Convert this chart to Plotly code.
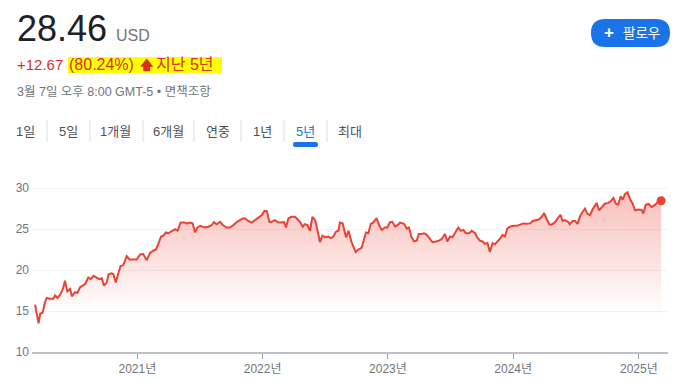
import plotly.graph_objects as go

# ---------------- data ----------------
dates = [
    "2020-03-09", "2020-03-19", "2020-03-24", "2020-03-31", "2020-04-07", "2020-04-12",
    "2020-04-22", "2020-05-01", "2020-05-06", "2020-05-13", "2020-05-21", "2020-05-29",
    "2020-06-04", "2020-06-11", "2020-06-19", "2020-06-24", "2020-07-03", "2020-07-10",
    "2020-07-18", "2020-08-02", "2020-08-11", "2020-08-18", "2020-08-26", "2020-09-05",
    "2020-09-12", "2020-09-19", "2020-09-26", "2020-10-04", "2020-10-09", "2020-10-18",
    "2020-10-23", "2020-10-30", "2020-11-07", "2020-11-13", "2020-11-21", "2020-12-01",
    "2020-12-09", "2020-12-20", "2020-12-30", "2021-01-09", "2021-01-18", "2021-01-28",
    "2021-02-07", "2021-02-17", "2021-02-24", "2021-03-03", "2021-03-11", "2021-03-18",
    "2021-03-25", "2021-04-01", "2021-04-11", "2021-04-21", "2021-04-28", "2021-05-07",
    "2021-05-18", "2021-05-25", "2021-06-03", "2021-06-11", "2021-06-18", "2021-06-25",
    "2021-07-03", "2021-07-12", "2021-07-17", "2021-07-27", "2021-08-06", "2021-08-12",
    "2021-08-20", "2021-08-30", "2021-09-07", "2021-09-18", "2021-09-28", "2021-10-08",
    "2021-10-17", "2021-10-27", "2021-11-04", "2021-11-11", "2021-11-20", "2021-11-30",
    "2021-12-10", "2021-12-19", "2021-12-29", "2022-01-06", "2022-01-13", "2022-01-21",
    "2022-01-27", "2022-02-06", "2022-02-14", "2022-02-25", "2022-03-05", "2022-03-10",
    "2022-03-17", "2022-03-25", "2022-04-05", "2022-04-13", "2022-04-20", "2022-04-28",
    "2022-05-04", "2022-05-11", "2022-05-19", "2022-05-26", "2022-06-03", "2022-06-09",
    "2022-06-17", "2022-06-24", "2022-07-02", "2022-07-11", "2022-07-19", "2022-07-26",
    "2022-08-03", "2022-08-10", "2022-08-14", "2022-08-22", "2022-09-01", "2022-09-08",
    "2022-09-17", "2022-09-29", "2022-10-07", "2022-10-16", "2022-10-23", "2022-10-29",
    "2022-11-05", "2022-11-12", "2022-11-19", "2022-11-29", "2022-12-07", "2022-12-14",
    "2022-12-23", "2022-12-30", "2023-01-07", "2023-01-14", "2023-01-22", "2023-01-31",
    "2023-02-05", "2023-02-17", "2023-02-25", "2023-03-03", "2023-03-11", "2023-03-18",
    "2023-03-26", "2023-04-01", "2023-04-09", "2023-04-16", "2023-04-24", "2023-05-04",
    "2023-05-11", "2023-05-21", "2023-05-30", "2023-06-07", "2023-06-16", "2023-06-23",
    "2023-07-01", "2023-07-08", "2023-07-15", "2023-07-25", "2023-08-01", "2023-08-09",
    "2023-08-16", "2023-08-26", "2023-09-02", "2023-09-12", "2023-09-18", "2023-09-26",
    "2023-10-04", "2023-10-11", "2023-10-18", "2023-10-25", "2023-11-02", "2023-11-09",
    "2023-11-16", "2023-11-23", "2023-12-01", "2023-12-08", "2023-12-15", "2023-12-23",
    "2024-01-01", "2024-01-11", "2024-01-21", "2024-01-30", "2024-02-09", "2024-02-19",
    "2024-02-27", "2024-03-09", "2024-03-17", "2024-03-24", "2024-03-31", "2024-04-07",
    "2024-04-15", "2024-04-22", "2024-05-02", "2024-05-11", "2024-05-18", "2024-05-24",
    "2024-05-31", "2024-06-10", "2024-06-14", "2024-06-22", "2024-06-29", "2024-07-06",
    "2024-07-14", "2024-07-21", "2024-07-28", "2024-08-04", "2024-08-12", "2024-08-19",
    "2024-08-26", "2024-08-31", "2024-09-07", "2024-09-15", "2024-09-24", "2024-10-04",
    "2024-10-11", "2024-10-19", "2024-10-26", "2024-11-02", "2024-11-09", "2024-11-15",
    "2024-11-22", "2024-11-29", "2024-12-06", "2024-12-14", "2024-12-21", "2024-12-30",
    "2025-01-09", "2025-01-14", "2025-01-21", "2025-01-29", "2025-02-07", "2025-02-17",
    "2025-02-27", "2025-03-07",
]
prices = [
    15.79, 13.5, 14.7, 14.8, 16.1, 16.6,
    16.5, 16.5, 16.9, 16.6, 17.0, 17.7,
    18.7, 17.4, 17.7, 16.8, 17.3, 17.2,
    17.9, 18.3, 19.1, 18.9, 19.3, 19.1,
    18.9, 19.0, 18.1, 18.5, 19.5, 19.6,
    19.5, 18.5, 19.6, 20.5, 20.6, 21.7,
    21.3, 21.3, 21.3, 21.9, 21.95, 21.2,
    22.1, 22.4, 22.5, 23.2, 24.1, 24.2,
    24.6, 24.5, 24.8, 25.0, 24.8, 25.8,
    25.8, 25.7, 25.8, 25.7, 24.6, 25.2,
    25.4, 25.3, 25.2, 25.3, 25.5, 25.85,
    25.6, 25.9, 25.5, 25.2, 25.2, 25.5,
    25.85, 26.1, 26.3, 26.3, 26.0, 25.8,
    26.1, 26.3, 26.7, 27.2, 27.2, 25.85,
    25.9, 26.1, 25.85, 25.8, 25.85, 25.2,
    26.3, 26.5, 26.5, 26.2, 25.85, 25.3,
    25.6, 25.5, 24.8, 26.5, 26.1, 25.0,
    23.4, 24.2, 24.0, 24.1, 23.9, 24.1,
    24.7, 24.8, 25.8, 25.7, 24.0, 24.8,
    23.4, 22.2, 22.5, 22.7, 23.7, 24.6,
    24.5, 25.65, 25.8, 26.35, 25.4, 24.9,
    25.2, 25.2, 25.85, 25.9, 25.3, 25.55,
    25.8, 25.65, 25.05, 25.2, 24.0, 23.5,
    23.6, 24.4, 24.4, 24.5, 24.3, 23.8,
    23.4, 23.5, 23.6, 23.8, 24.4, 23.5,
    24.1, 24.0, 24.5, 25.2, 24.8, 24.9,
    24.5, 24.5, 24.8, 24.5, 24.0, 23.6,
    23.5, 23.2, 23.3, 22.2, 23.3, 23.15,
    23.5, 23.8, 24.3, 24.1, 25.1, 25.3,
    25.4, 25.4, 25.55, 25.7, 25.65, 25.7,
    26.0, 26.1, 26.2, 26.5, 26.95, 26.3,
    25.6, 25.55, 25.85, 26.4, 26.75, 26.0,
    26.1, 25.85, 25.6, 26.0, 26.0, 25.65,
    26.6, 27.1, 27.5, 26.9, 26.7, 27.4,
    27.95, 28.2, 27.3, 27.7, 28.1, 28.2,
    28.4, 28.8, 28.1, 28.0, 29.0, 28.6,
    29.3, 29.5, 28.7, 28.1, 27.3, 27.4,
    27.35, 26.9, 27.95, 28.1, 27.7, 27.95,
    28.4, 28.46,
]
y_ticks = [10, 15, 20, 25, 30]
x_tick_dates = ["2021-01-01", "2022-01-01", "2023-01-01", "2024-01-01", "2025-01-01"]
x_tick_labels = ["2021년", "2022년", "2023년", "2024년", "2025년"]
tabs = ["1일", "5일", "1개월", "6개월", "연중", "1년", "5년", "최대"]
active_tab = "5년"
price_text = "28.46"
currency = "USD"
change_abs = "+12.67"
change_pct = "(80.24%)"
arrow_text = "<b>🡅</b>"
period_text = "지난 5년"
date_text = "3월 7일 오후 8:00 GMT-5 • 면책조항"
follow_plus = "<b>+</b>"
follow_text = "팔로우"

# ---------------- layout helpers ----------------
W, H = 689, 382
L, R, T, B = 32, 21, 180, 30
FONT = "Liberation Sans, Arial, Noto Sans CJK KR, sans-serif"
RED = "#ea4335"
TXT_RED = "#d93025"
GRAY = "#70757a"
BLUE = "#1a73e8"


def px(x):
    return (x - L) / (W - L - R)


def py(y):
    return (H - B - y) / (H - T - B)


def rrect(x0, y0, x1, y1, r):
    return (
        f"M {px(x0 + r)},{py(y0)} L {px(x1 - r)},{py(y0)} "
        f"Q {px(x1)},{py(y0)} {px(x1)},{py(y0 + r)} L {px(x1)},{py(y1 - r)} "
        f"Q {px(x1)},{py(y1)} {px(x1 - r)},{py(y1)} L {px(x0 + r)},{py(y1)} "
        f"Q {px(x0)},{py(y1)} {px(x0)},{py(y1 - r)} L {px(x0)},{py(y0 + r)} "
        f"Q {px(x0)},{py(y0)} {px(x0 + r)},{py(y0)} Z"
    )


def note(text, x, y, size, color, anchor="left", family=FONT):
    return dict(text=text, x=px(x), y=py(y), xref="paper", yref="paper",
                xanchor=anchor, yanchor="middle", showarrow=False,
                font=dict(size=size, color=color, family=family))


fig = go.Figure()
fig.add_trace(go.Scatter(
    x=dates, y=prices, mode="lines",
    line=dict(color=RED, width=2),
    fill="tozeroy",
    fillgradient=dict(
        type="vertical",
        colorscale=[[0, "rgba(234,67,53,0)"], [1, "rgba(234,67,53,0.34)"]],
        start=14.5, stop=29.5,
    ),
    hoverinfo="skip",
))
fig.add_trace(go.Scatter(
    x=[dates[-1]], y=[prices[-1]], mode="markers",
    marker=dict(color=RED, size=9), hoverinfo="skip",
))

shapes = []
annotations = []

# yellow highlight
shapes.append(dict(type="rect", xref="paper", yref="paper",
                   x0=px(68), x1=px(222), y0=py(73), y1=py(57),
                   fillcolor="#ffff00", line=dict(width=0), layer="below"))

annotations.append(note(price_text, 15, 28, 36, "#202124"))
annotations.append(note(currency, 114, 35, 16, GRAY))
annotations.append(note(change_abs, 15, 65, 15, TXT_RED))
annotations.append(note(change_pct, 67, 65, 16, TXT_RED))
annotations.append(note(arrow_text, 146.5, 65, 13, TXT_RED, anchor="center",
                        family="DejaVu Sans, Noto Sans, sans-serif"))
annotations.append(note(period_text, 154, 65, 16, TXT_RED))
annotations.append(note(date_text, 15, 91, 12.5, GRAY))

# tabs
tab_centers = [25, 68, 115.5, 168, 217.5, 262, 305, 350]
for name, cx in zip(tabs, tab_centers):
    annotations.append(note(name, cx, 131, 13, BLUE if name == active_tab else "#4d5156",
                            anchor="center"))
for sx in [47, 90, 143, 194, 241, 284, 327]:
    shapes.append(dict(type="line", xref="paper", yref="paper",
                       x0=px(sx), x1=px(sx), y0=py(120), y1=py(142),
                       line=dict(color="#dadce0", width=1)))
shapes.append(dict(type="path", xref="paper", yref="paper",
                   path=rrect(293, 142, 318, 147, 2),
                   fillcolor=BLUE, line=dict(width=0)))

# follow button
shapes.append(dict(type="path", xref="paper", yref="paper",
                   path=rrect(591, 19, 670, 47, 14),
                   fillcolor=BLUE, line=dict(width=0)))
annotations.append(note(follow_plus, 608.5, 32.5, 17, "white", anchor="center"))
annotations.append(note(follow_text, 621, 33, 13.5, "white", anchor="left"))

fig.update_layout(
    width=W, height=H,
    margin=dict(l=L, r=R, t=T, b=B, pad=0, autoexpand=False),
    paper_bgcolor="white", plot_bgcolor="white",
    showlegend=False,
    font=dict(family=FONT),
    shapes=shapes, annotations=annotations,
    xaxis=dict(
        type="date", range=["2020-02-29", "2025-03-27"],
        tickvals=x_tick_dates, ticktext=x_tick_labels,
        ticks="outside", ticklen=5, tickcolor="#9aa0a6", tickwidth=1,
        showgrid=False, zeroline=False, automargin=False,
        showline=True, linecolor="#bdc1c6", linewidth=2,
        tickfont=dict(size=12, color=GRAY, family=FONT),
        fixedrange=True,
    ),
    yaxis=dict(
        range=[10, 31], tickvals=y_ticks,
        showgrid=True, gridcolor="#f1f3f4", gridwidth=1,
        zeroline=False, ticks="", ticklabelstandoff=2, automargin=False,
        tickfont=dict(size=12, color=GRAY, family=FONT),
        fixedrange=True,
    ),
)

fig.write_html("out.html", config=dict(displayModeBar=False))
